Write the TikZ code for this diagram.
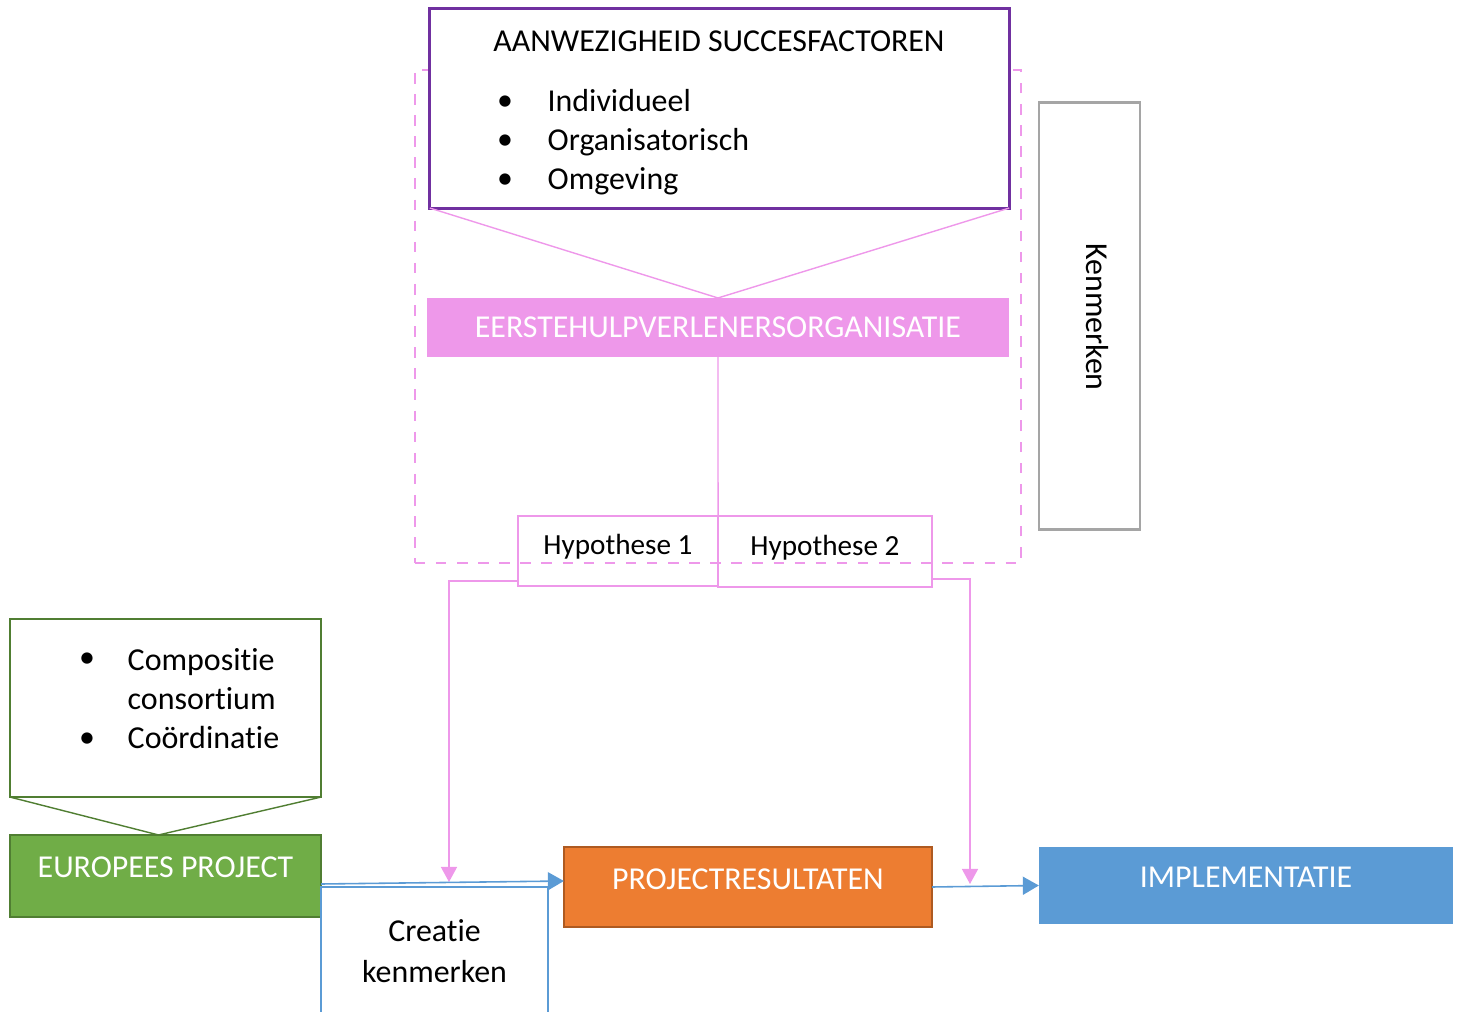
\documentclass[tikz,border=0pt]{standalone}
\usepackage{fontspec}
\setmainfont{Carlito}[RawFeature={-liga;-clig;-calt;-dlig}]
\usepackage{tikz}
\usetikzlibrary{arrows.meta}

\definecolor{paars}{HTML}{7030A0}
\definecolor{roze}{HTML}{EE98EA}
\definecolor{grijs}{HTML}{A5A5A5}
\definecolor{groen}{HTML}{70AD47}
\definecolor{donkergroen}{HTML}{507E32}
\definecolor{oranje}{HTML}{ED7D31}
\definecolor{donkeroranje}{HTML}{AE5A21}
\definecolor{blauw}{HTML}{5B9BD5}

\begin{document}
\begin{tikzpicture}[x=0.01cm,y=-0.01cm,font=\fontsize{9.07}{11.1}\selectfont,
	vak/.style={inner sep=0pt,outer sep=0pt},
	gevuld/.style={vak,text=white,fill=#1},
	hypothese/.style={vak,draw=roze,line width=0.55pt,text depth=0.13cm,font=\fontsize{8.3}{10}\selectfont},
	rozepijl/.style={draw=roze,line width=0.4pt,-{Triangle[width=0.16cm,length=0.15cm]}},
	blauwpijl/.style={draw=blauw,line width=0.45pt,-{Triangle[width=0.18cm,length=0.16cm]}}]
	\clip (0,0) rectangle (1459,1012);
	
	\node[vak,draw=roze,dashed,line width=0.55pt,minimum width=6.06cm,minimum height=4.93cm] (kader) at (718,316.5) {};
	\node[vak,draw=paars,fill=white,line width=0.85pt,minimum width=5.79cm,minimum height=1.99cm] (succes) at (719.5,108.5) {};
	\node (titel) at (719,41) {AANWEZIGHEID SUCCESFACTOREN};
	\foreach \tekst [count=\i] in {Individueel,Organisatorisch,Omgeving}
	{
		\node[anchor=mid] (bol\i) at (505,63+39*\i) {\textbullet};
		\node[anchor=mid west,inner sep=0pt] (factor\i) at (547,64+39*\i) {\tekst};
	}
	\node[gevuld=roze,minimum width=5.82cm,minimum height=0.59cm] (organisatie) at (718,327.5) {EERSTEHULPVERLENERSORGANISATIE};
	\node[hypothese,minimum width=2.0cm,minimum height=0.70cm] (hyp1) at (618,551) {Hypothese 1};
	\node[hypothese,minimum width=2.14cm,minimum height=0.71cm] (hyp2) at (825,551.5) {Hypothese 2};
	\node[vak,draw=grijs,line width=0.8pt,minimum width=1.01cm,minimum height=4.26cm] (kenmerken) at (1089.5,316) {};
	\node[rotate=-90] (kenmerkentekst) at (1097,317) {Kenmerken};
	
	\node[vak,draw=donkergroen,line width=0.55pt,minimum width=3.11cm,minimum height=1.78cm] (aspecten) at (165.5,708) {};
	\node[anchor=mid] (bol4) at (87,659) {\textbullet};
	\node[anchor=mid] (bol5) at (87,739) {\textbullet};
	\node[anchor=north west,inner sep=0pt,align=left,font=\fontsize{9.1}{11.1}\selectfont] (compositie) at (127,648) {Compositie\\consortium};
	\node[anchor=mid west,inner sep=0pt,font=\fontsize{9.1}{11.1}\selectfont] (coordinatie) at (127,740) {Coördinatie};
	\node[gevuld=groen,draw=donkergroen,line width=0.55pt,minimum width=3.11cm,minimum height=0.82cm,text depth=0.18cm] (europees) at (165.5,876) {EUROPEES PROJECT};
	\node[vak,draw=blauw,line width=0.8pt,minimum width=2.27cm,minimum height=1.28cm,align=center] (creatie) at (434.5,951) {Creatie\\[0.6pt]kenmerken};
	\node[gevuld=oranje,draw=donkeroranje,line width=0.7pt,minimum width=3.68cm,minimum height=0.80cm,text depth=0.16cm] (resultaten) at (748,887) {PROJECTRESULTATEN};
	\node[gevuld=blauw,minimum width=4.14cm,minimum height=0.77cm,text depth=0.16cm] (implementatie) at (1246,885.5) {IMPLEMENTATIE};
	
	\coordinate (doel1) at (449,882);
	\coordinate (doel2) at (970,884);
	
	\path[draw=roze,line width=0.4pt]
	(succes.south west) edge (organisatie.north)
	(succes.south east) edge (organisatie.north)
	(organisatie.south) edge (hyp1.north east);
	\path[draw=donkergroen,line width=0.4pt]
	(aspecten.south west) edge ([xshift=-0.07cm]europees.north)
	(aspecten.south east) edge ([xshift=-0.07cm]europees.north);
	\draw[rozepijl] ([yshift=0.05cm]hyp1.south west) -| (doel1);
	\draw[rozepijl] ([yshift=0.08cm]hyp2.south east) -| (doel2);
	\draw[blauwpijl] ([yshift=-0.08cm]europees.east) -- ([yshift=0.06cm]resultaten.west);
	\draw[blauwpijl] (resultaten.east) -- (implementatie.west);
\end{tikzpicture}
\end{document}
